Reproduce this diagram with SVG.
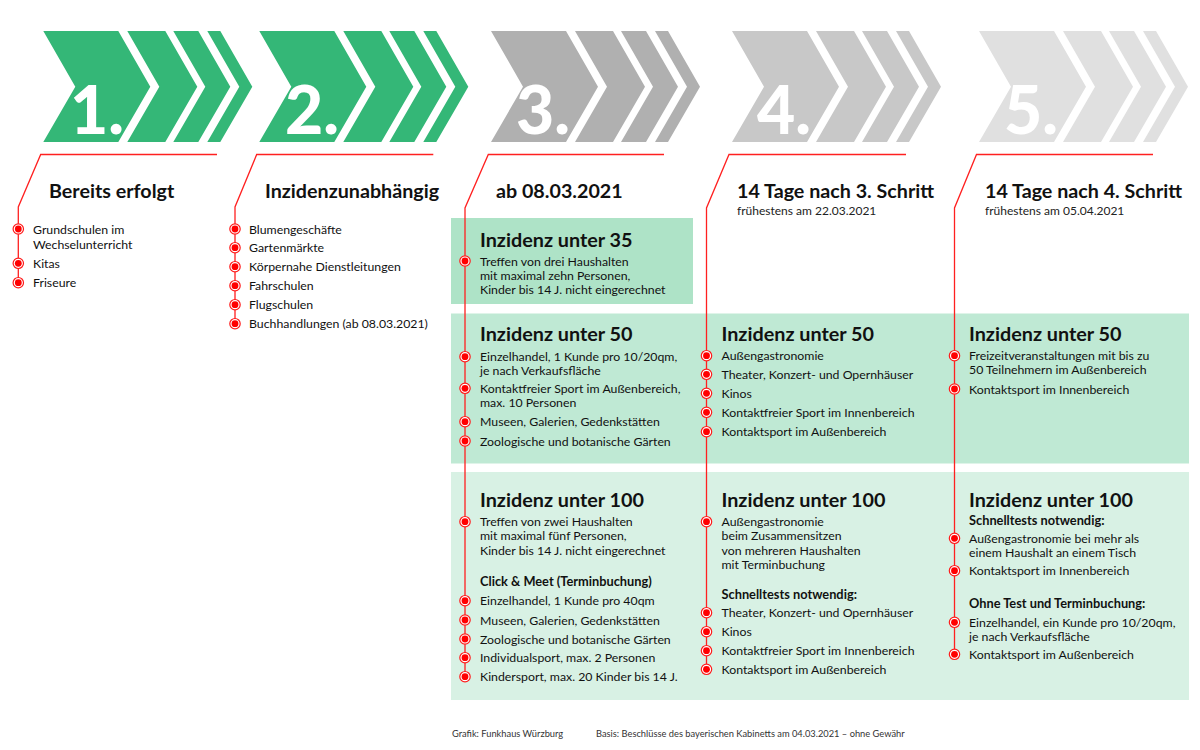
<svg xmlns="http://www.w3.org/2000/svg" xmlns:xlink="http://www.w3.org/1999/xlink" width="1200" height="750" viewBox="0 0 1200 750">
<style>
text{font-family:Lato,"Liberation Sans",sans-serif;fill:#111}
.num{font-family:Lato,"Open Sans",sans-serif;font-weight:900;font-size:66px;fill:#fff}
.hd{font-weight:700;font-size:19.7px}
.sub{font-size:12px;fill:#222}
.ph{font-weight:700;font-size:19.8px}
.b{font-size:12.3px}
.bb{font-size:12.8px;font-weight:700}
.ft{font-size:9.3px;fill:#333}
.ln{fill:none;stroke:#ff2020;stroke-width:1.3}
</style>
<defs>
<g id="chev">
<polygon points="0,31 75,31 107,86.7 75,142 0,142 32,86.7"/>
<polygon points="84,31 122,31 154,86.7 122,142 84,142 116,86.7"/>
<polygon points="130,31 155,31 187,86.7 155,142 130,142 162,86.7"/>
<polygon points="164,31 177,31 209,86.7 177,142 164,142 196,86.7"/>
</g>
<g id="dot">
<circle r="5.2" fill="#fff" stroke="#ff1a1a" stroke-width="1.2"/>
<circle r="3.4" fill="#ff0000"/>
</g>
</defs>
<rect width="1200" height="750" fill="#fff"/>

<g id="step1">
<use xlink:href="#chev" x="43.3" fill="#34b777"/>
<text class="num" x="70" y="134">1.</text>
<text class="hd" x="49" y="198">Bereits erfolgt</text>
</g>
<g id="step2">
<use xlink:href="#chev" x="259.3" fill="#34b777"/>
<text class="num" x="285" y="134">2.</text>
<text class="hd" x="265" y="198">Inzidenzunabhängig</text>
</g>
<g id="step3">
<use xlink:href="#chev" x="491" fill="#b0b0b0"/>
<text class="num" x="516" y="134">3.</text>
<text class="hd" x="496" y="198">ab 08.03.2021</text>
</g>
<g id="step4">
<use xlink:href="#chev" x="732" fill="#c8c8c8"/>
<text class="num" x="757" y="134">4.</text>
<text class="hd" x="737" y="198">14 Tage nach 3. Schritt</text>
<text class="sub" x="737" y="215">frühestens am 22.03.2021</text>
</g>
<g id="step5">
<use xlink:href="#chev" x="979" fill="#e0e0e0"/>
<text class="num" x="1004" y="134">5.</text>
<text class="hd" x="985" y="198">14 Tage nach 4. Schritt</text>
<text class="sub" x="985" y="215">frühestens am 05.04.2021</text>
</g>

<g id="panel-35">
<rect x="451" y="218" width="242" height="86" fill="#aee3c7"/>
<text class="ph" x="480" y="246.5">Inzidenz unter 35</text>
</g>
<g id="panel-50">
<rect x="451" y="313.5" width="738" height="150" fill="#bfe9d4"/>
<text class="ph" x="480" y="341">Inzidenz unter 50</text>
<text class="ph" x="721.5" y="341">Inzidenz unter 50</text>
<text class="ph" x="969" y="341">Inzidenz unter 50</text>
</g>
<g id="panel-100">
<rect x="451" y="472" width="738" height="228" fill="#d8f1e4"/>
<text class="ph" x="480" y="507">Inzidenz unter 100</text>
<text class="ph" x="721.5" y="507">Inzidenz unter 100</text>
<text class="ph" x="969" y="507">Inzidenz unter 100</text>
</g>

<g id="connectors">
<path class="ln" d="M217,154.5 L40.7,154.5 L18.3,207 L18.3,283"/>
<path class="ln" d="M433.3,154.5 L256.7,154.5 L235,207 L235,323.7"/>
<path class="ln" d="M664,154.5 L488.3,154.5 L465,208 L465,676.7"/>
<path class="ln" d="M906,154.5 L729,154.5 L706.5,208 L706.5,669.3"/>
<path class="ln" d="M1153,154.5 L976.5,154.5 L954.5,208 L954.5,654.3"/>
</g>

<g id="list-step1">
<use xlink:href="#dot" x="18.3" y="229"/>
<use xlink:href="#dot" x="18.3" y="263.3"/>
<use xlink:href="#dot" x="18.3" y="282.7"/>
<text class="b" x="33" y="233.5">Grundschulen im</text>
<text class="b" x="33" y="248.8">Wechselunterricht</text>
<text class="b" x="33" y="267.8">Kitas</text>
<text class="b" x="33" y="287.2">Friseure</text>
</g>
<g id="list-step2">
<use xlink:href="#dot" x="235" y="229"/>
<use xlink:href="#dot" x="235" y="247.7"/>
<use xlink:href="#dot" x="235" y="266.7"/>
<use xlink:href="#dot" x="235" y="285.7"/>
<use xlink:href="#dot" x="235" y="304.7"/>
<use xlink:href="#dot" x="235" y="323.7"/>
<text class="b" x="249" y="233.5">Blumengeschäfte</text>
<text class="b" x="249" y="252.2">Gartenmärkte</text>
<text class="b" x="249" y="271.2">Körpernahe Dienstleitungen</text>
<text class="b" x="249" y="290.2">Fahrschulen</text>
<text class="b" x="249" y="309.2">Flugschulen</text>
<text class="b" x="249" y="328.2">Buchhandlungen (ab 08.03.2021)</text>
</g>

<g id="list-step3-35">
<use xlink:href="#dot" x="465" y="261"/>
<text class="b" x="480" y="265.5">Treffen von drei Haushalten</text>
<text class="b" x="480" y="279.7">mit maximal zehn Personen,</text>
<text class="b" x="480" y="293.9">Kinder bis 14 J. nicht eingerechnet</text>
</g>
<g id="list-step3-50">
<use xlink:href="#dot" x="465" y="356.7"/>
<use xlink:href="#dot" x="465" y="388.3"/>
<use xlink:href="#dot" x="465" y="421.7"/>
<use xlink:href="#dot" x="465" y="441"/>
<text class="b" x="480" y="361.2">Einzelhandel, 1 Kunde pro 10/20qm,</text>
<text class="b" x="480" y="375.4">je nach Verkaufsfläche</text>
<text class="b" x="480" y="392.8">Kontaktfreier Sport im Außenbereich,</text>
<text class="b" x="480" y="407">max. 10 Personen</text>
<text class="b" x="480" y="426.2">Museen, Galerien, Gedenkstätten</text>
<text class="b" x="480" y="445.5">Zoologische und botanische Gärten</text>
</g>
<g id="list-step4-50">
<use xlink:href="#dot" x="706.5" y="355.7"/>
<use xlink:href="#dot" x="706.5" y="374.3"/>
<use xlink:href="#dot" x="706.5" y="393.3"/>
<use xlink:href="#dot" x="706.5" y="412.3"/>
<use xlink:href="#dot" x="706.5" y="431.7"/>
<text class="b" x="721.5" y="360.2">Außengastronomie</text>
<text class="b" x="721.5" y="378.8">Theater, Konzert- und Opernhäuser</text>
<text class="b" x="721.5" y="397.8">Kinos</text>
<text class="b" x="721.5" y="416.8">Kontaktfreier Sport im Innenbereich</text>
<text class="b" x="721.5" y="436.2">Kontaktsport im Außenbereich</text>
</g>
<g id="list-step5-50">
<use xlink:href="#dot" x="954.5" y="355.7"/>
<use xlink:href="#dot" x="954.5" y="389"/>
<text class="b" x="969" y="360.2">Freizeitveranstaltungen mit bis zu</text>
<text class="b" x="969" y="374.4">50 Teilnehmern im Außenbereich</text>
<text class="b" x="969" y="393.5">Kontaktsport im Innenbereich</text>
</g>

<g id="list-step3-100">
<use xlink:href="#dot" x="465" y="521.7"/>
<use xlink:href="#dot" x="465" y="600.7"/>
<use xlink:href="#dot" x="465" y="620"/>
<use xlink:href="#dot" x="465" y="639"/>
<use xlink:href="#dot" x="465" y="657.7"/>
<use xlink:href="#dot" x="465" y="676.7"/>
<text class="b" x="480" y="526.2">Treffen von zwei Haushalten</text>
<text class="b" x="480" y="540.4">mit maximal fünf Personen,</text>
<text class="b" x="480" y="554.6">Kinder bis 14 J. nicht eingerechnet</text>
<text class="bb" x="480" y="586.2">Click &amp; Meet (Terminbuchung)</text>
<text class="b" x="480" y="605.2">Einzelhandel, 1 Kunde pro 40qm</text>
<text class="b" x="480" y="624.5">Museen, Galerien, Gedenkstätten</text>
<text class="b" x="480" y="643.5">Zoologische und botanische Gärten</text>
<text class="b" x="480" y="662.2">Individualsport, max. 2 Personen</text>
<text class="b" x="480" y="681.2">Kindersport, max. 20 Kinder bis 14 J.</text>
</g>
<g id="list-step4-100">
<use xlink:href="#dot" x="706.5" y="521.7"/>
<use xlink:href="#dot" x="706.5" y="612.7"/>
<use xlink:href="#dot" x="706.5" y="631.7"/>
<use xlink:href="#dot" x="706.5" y="650.7"/>
<use xlink:href="#dot" x="706.5" y="669.3"/>
<text class="b" x="721.5" y="526.2">Außengastronomie</text>
<text class="b" x="721.5" y="540.4">beim Zusammensitzen</text>
<text class="b" x="721.5" y="554.6">von mehreren Haushalten</text>
<text class="b" x="721.5" y="568.8">mit Terminbuchung</text>
<text class="bb" x="721.5" y="598.5">Schnelltests notwendig:</text>
<text class="b" x="721.5" y="617.2">Theater, Konzert- und Opernhäuser</text>
<text class="b" x="721.5" y="636.2">Kinos</text>
<text class="b" x="721.5" y="655.2">Kontaktfreier Sport im Innenbereich</text>
<text class="b" x="721.5" y="673.8">Kontaktsport im Außenbereich</text>
</g>
<g id="list-step5-100">
<use xlink:href="#dot" x="954.5" y="538.3"/>
<use xlink:href="#dot" x="954.5" y="570.7"/>
<use xlink:href="#dot" x="954.5" y="622.3"/>
<use xlink:href="#dot" x="954.5" y="654.3"/>
<text class="bb" x="969" y="524.5">Schnelltests notwendig:</text>
<text class="b" x="969" y="542.8">Außengastronomie bei mehr als</text>
<text class="b" x="969" y="557">einem Haushalt an einem Tisch</text>
<text class="b" x="969" y="575.2">Kontaktsport im Innenbereich</text>
<text class="bb" x="969" y="607.8">Ohne Test und Terminbuchung:</text>
<text class="b" x="969" y="626.8">Einzelhandel, ein Kunde pro 10/20qm,</text>
<text class="b" x="969" y="641">je nach Verkaufsfläche</text>
<text class="b" x="969" y="658.8">Kontaktsport im Außenbereich</text>
</g>

<g id="footer">
<text class="ft" x="452" y="736.5">Grafik: Funkhaus Würzburg</text>
<text class="ft" x="596" y="736.5">Basis: Beschlüsse des bayerischen Kabinetts am 04.03.2021 – ohne Gewähr</text>
</g>
</svg>
